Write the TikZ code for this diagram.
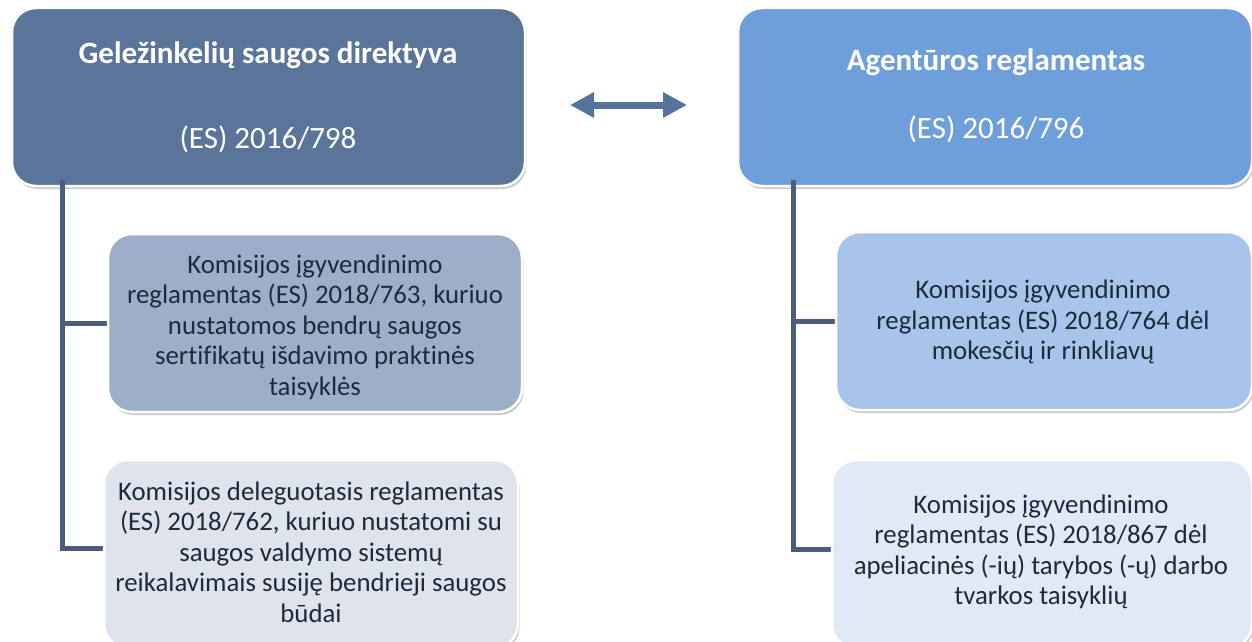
\documentclass[tikz,border=0pt]{standalone}
\usepackage{fontspec}
\setmainfont{Carlito}[Ligatures=NoCommon]
\usetikzlibrary{shadows,arrows.meta}
\definecolor{topL}{HTML}{5B7499}
\definecolor{topR}{HTML}{6F9FDB}
\definecolor{subLa}{HTML}{9DAFC8}
\definecolor{subLb}{HTML}{DEE3EC}
\definecolor{subRa}{HTML}{A9C4EA}
\definecolor{subRb}{HTML}{E0E9F6}
\definecolor{linec}{HTML}{4A5D7E}
\definecolor{arrc}{HTML}{56739A}
\definecolor{txtc}{HTML}{1C2A3C}
\tikzset{
  box/.style={draw=white, line width=2.5pt, rounded corners=24pt,
    drop shadow={shadow xshift=1.5pt, shadow yshift=-3pt, opacity=0.35, fill=black!60}},
  toptitle/.style={font=\fontsize{31}{36}\selectfont\bfseries, text=white, anchor=center},
  topcode/.style={font=\fontsize{31}{36}\selectfont, text=white, anchor=center},
  subtext/.style={font=\fontsize{26.8}{30.5}\selectfont, text=txtc, align=center, anchor=center},
  conn/.style={draw=linec, line width=5pt},
}
\begin{document}
\begin{tikzpicture}[x=1pt,y=-1pt]
\useasboundingbox (0,0) rectangle (1252,642);
\coordinate (lv0) at (62,180);
\coordinate (lv1) at (62,323);
\coordinate (lv2) at (62,548);
\coordinate (rv0) at (793,180);
\coordinate (rv1) at (793,321);
\coordinate (rv2) at (793,549);
% top boxes
\path[box, fill=topL] (12,8) rectangle (525,186);
\node[toptitle] (t1) at (268,55) {Geležinkelių saugos direktyva};
\node[topcode] (c1) at (268,139) {(ES) 2016/798};
\path[box, fill=topR] (738,8) rectangle (1252,186);
\node[toptitle] (t2) at (996,62) {Agentūros reglamentas};
\node[topcode] (c2) at (996,129) {(ES) 2016/796};
% connectors
\coordinate (la) at (108,323);
\coordinate (lb) at (104,548);
\coordinate (ra) at (836,321);
\coordinate (rb) at (832,549);
\draw[conn] (lv0) -- (lv1) -- (la);
\draw[conn] (lv1) -- (lv2) -- (lb);
\draw[conn] (rv0) -- (rv1) -- (ra);
\draw[conn] (rv1) -- (rv2) -- (rb);
% sub boxes
\path[box, fill=subLa] (108,234) rectangle (522,412);
\node[subtext] (s1) at (315,327) {Komisijos įgyvendinimo\\reglamentas (ES) 2018/763, kuriuo\\nustatomos bendrų saugos\\sertifikatų išdavimo praktinės\\taisyklės};
\path[box, fill=subLb] (104,460) rectangle (518,648);
\node[subtext] (s2) at (311,552) {Komisijos deleguotasis reglamentas\\(ES) 2018/762, kuriuo nustatomi su\\saugos valdymo sistemų\\reikalavimais susiję bendrieji saugos\\būdai};
\path[box, fill=subRa] (836,232) rectangle (1252,410);
\node[subtext] (s3) at (1043,322) {Komisijos įgyvendinimo\\reglamentas (ES) 2018/764 dėl\\mokesčių ir rinkliavų};
\path[box, fill=subRb] (832,460) rectangle (1252,648);
\node[subtext] (s4) at (1041,552) {Komisijos įgyvendinimo\\reglamentas (ES) 2018/867 dėl\\apeliacinės (-ių) tarybos (-ų) darbo\\tvarkos taisyklių};
% double arrow
\coordinate (aL) at (570,105);
\coordinate (aR) at (687,105);
\draw[draw=arrc, line width=7pt, {Triangle[length=24pt,width=24pt]}-{Triangle[length=24pt,width=24pt]}] (aL) -- (aR);
\end{tikzpicture}
\end{document}
